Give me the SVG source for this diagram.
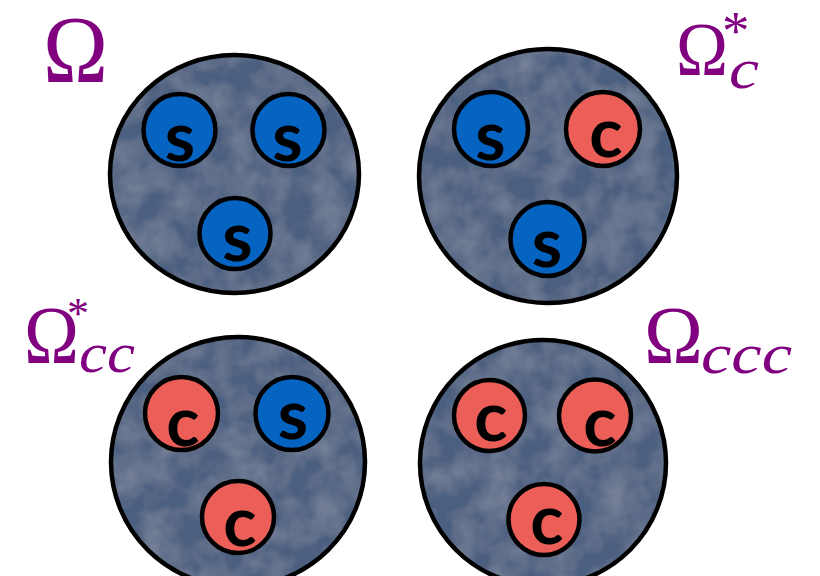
<svg xmlns="http://www.w3.org/2000/svg" width="820" height="576" viewBox="0 0 820 576">
<defs>
<filter id="tex" x="0" y="0" width="100%" height="100%">
<feTurbulence type="fractalNoise" baseFrequency="0.035" numOctaves="3" seed="4" result="n"/>
<feColorMatrix in="n" type="matrix" values="0 0 0 0 1  0 0 0 0 1  0 0 0 0 1  0.22 0 0 0 -0.07" result="w"/>
<feComposite in="w" in2="SourceGraphic" operator="in" result="wc"/>
<feMerge><feMergeNode in="SourceGraphic"/><feMergeNode in="wc"/></feMerge>
</filter>
<style>
.big{fill:#4b5f80;filter:url(#tex)}
.rim{fill:none;stroke:#000;stroke-width:4.5}
.sq{fill:#0563c1;stroke:#000;stroke-width:4.5}
.cq{fill:#ec5f58;stroke:#000;stroke-width:4.5}
.q{font-family:Lato,"Open Sans",sans-serif;font-weight:bold;font-size:69px;fill:#000;text-anchor:middle}
.om{font-family:"Liberation Serif","Times New Roman",serif;fill:#800080}
.it{font-style:italic}
</style>
</defs>
<rect width="820" height="576" fill="#fff"/>

<g id="omega">
<ellipse class="big" cx="234.5" cy="174" rx="124.5" ry="119"/>
<ellipse class="rim" cx="234.5" cy="174" rx="124.5" ry="119"/>
<circle class="sq" cx="179.5" cy="130" r="36"/>
<circle class="sq" cx="288.5" cy="130" r="36"/>
<circle class="sq" cx="235" cy="233.5" r="35.5"/>
<text class="q" x="180" y="161">s</text>
<text class="q" x="287.5" y="161">s</text>
<text class="q" x="237.5" y="261">s</text>
<text class="om" x="43" y="82" font-size="96" textLength="65" lengthAdjust="spacingAndGlyphs">Ω</text>
</g>

<g id="omega-c-star">
<ellipse class="big" cx="548" cy="176" rx="129" ry="127"/>
<ellipse class="rim" cx="548" cy="176" rx="129" ry="127"/>
<circle class="sq" cx="491" cy="129" r="37"/>
<circle class="cq" cx="603" cy="129" r="37"/>
<circle class="sq" cx="547.5" cy="239" r="37"/>
<text class="q" x="490.5" y="160">s</text>
<text class="q" x="606" y="157">c</text>
<text class="q" x="547" y="267">s</text>
<text class="om" font-size="76"><tspan x="676" y="75" textLength="52" lengthAdjust="spacingAndGlyphs">Ω</tspan><tspan x="722" y="49" font-size="55">*</tspan><tspan class="it" x="729" y="88" font-size="56" textLength="30" lengthAdjust="spacingAndGlyphs">c</tspan></text>
</g>

<g id="omega-cc-star">
<ellipse class="big" cx="238" cy="462" rx="127" ry="125"/>
<ellipse class="rim" cx="238" cy="462" rx="127" ry="125"/>
<circle class="cq" cx="181.5" cy="413.5" r="36.5"/>
<circle class="sq" cx="292" cy="413.5" r="36.5"/>
<circle class="cq" cx="238" cy="517" r="36"/>
<text class="q" x="183" y="446">c</text>
<text class="q" x="293" y="439">s</text>
<text class="q" x="240" y="546">c</text>
<text class="om" font-size="83"><tspan x="24" y="363" textLength="55" lengthAdjust="spacingAndGlyphs">Ω</tspan><tspan x="67" y="328" font-size="44">*</tspan><tspan class="it" x="79" y="372" font-size="56" textLength="56" lengthAdjust="spacingAndGlyphs">cc</tspan></text>
</g>

<g id="omega-ccc">
<ellipse class="big" cx="543" cy="463" rx="123" ry="123"/>
<ellipse class="rim" cx="543" cy="463" rx="123" ry="123"/>
<circle class="cq" cx="489.5" cy="415.5" r="35.5"/>
<circle class="cq" cx="595" cy="415.5" r="36"/>
<circle class="cq" cx="544" cy="519.5" r="35.5"/>
<text class="q" x="491" y="441">c</text>
<text class="q" x="600" y="446">c</text>
<text class="q" x="547" y="544">c</text>
<text class="om" font-size="83"><tspan x="644" y="363" textLength="59" lengthAdjust="spacingAndGlyphs">Ω</tspan><tspan class="it" x="701" y="373" font-size="57" textLength="91" lengthAdjust="spacingAndGlyphs">ccc</tspan></text>
</g>

<g id="connectors"/>
</svg>
